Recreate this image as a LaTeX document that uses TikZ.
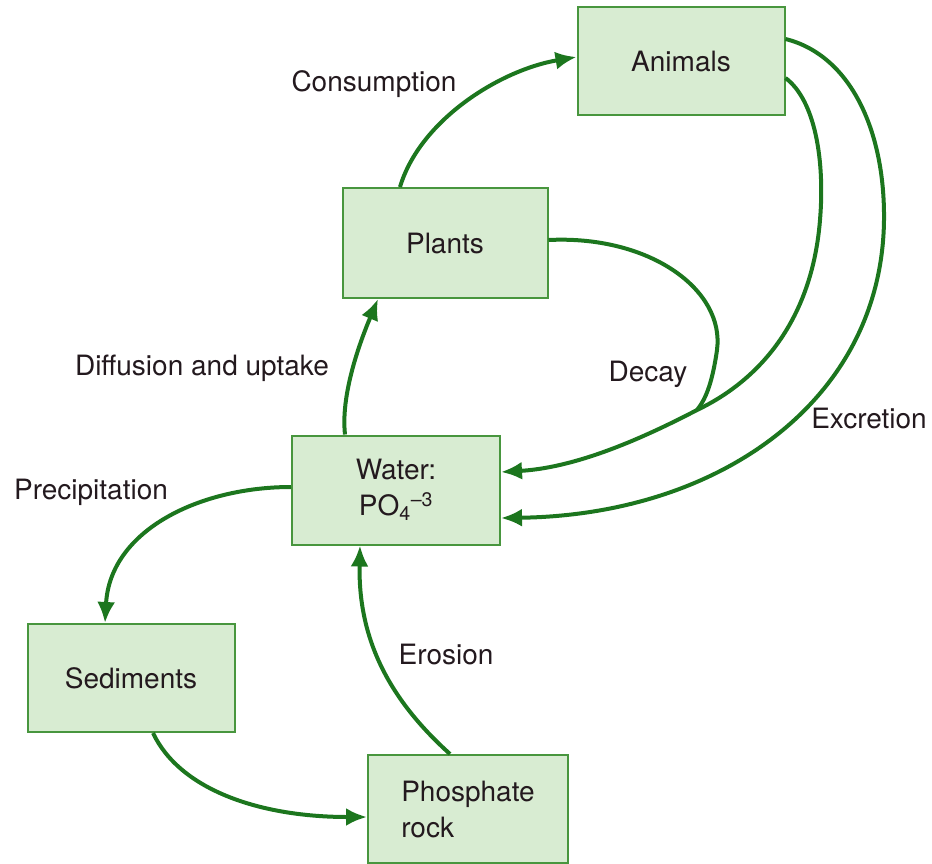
\documentclass[tikz,border=0pt]{standalone}
\usepackage{fontspec}
\setmainfont{TeX Gyre Heros}
\usepackage{xcolor}
\usetikzlibrary{arrows.meta}
\definecolor{boxfill}{RGB}{216,236,210}
\definecolor{boxline}{RGB}{72,150,62}
\definecolor{flow}{RGB}{28,118,30}
\definecolor{ink}{RGB}{35,25,30}
\tikzstyle{block} = [rectangle, draw=boxline, line width=2pt, fill=boxfill,
text=ink, minimum width=207pt, minimum height=108pt, align=center]
\tikzstyle{tag} = [text=ink]
\tikzstyle{line} = [draw=flow, line width=4pt, -{Latex[length=21pt,width=18pt]}]
\tikzstyle{noarrow} = [draw=flow, line width=4pt]

\begin{document}
\begin{tikzpicture}[x=1pt, y=-1pt, font=\fontsize{28}{36}\selectfont]
	\useasboundingbox (0,0) rectangle (932,863);
	% Place nodes
	\node [block] (animals) at (681,61) {Animals};
	\node [block, minimum width=205pt, minimum height=110pt] (plants) at (445,243) {Plants};
	\node [block, minimum width=208pt, minimum height=109pt] (water) at (396,490) {Water:\\PO\textsubscript{4}\textsuperscript{--3}};
	\node [block] (sediments) at (131,678) {Sediments};
	\node [block, minimum width=200pt, align=left] (rock) at (468,809) {Phosphate\\rock};
	\coordinate (merge) at (697,410);
	%
	\path [line] ([xshift=-45pt]plants.north) .. controls (420,120) and (500,70) .. ([yshift=4pt]animals.west);
	\path [line] ([xshift=-51pt]water.north) .. controls (340,390) and (365,330) .. ([xshift=-67pt]plants.south);
	\path [line] ([yshift=3pt]water.west) .. controls (200,487) and (110,530) .. ([xshift=-26pt]sediments.north);
	\path [line] ([xshift=22pt]sediments.south) .. controls (180,790) and (260,817) .. ([yshift=-8pt]rock.west);
	\path [line] ([xshift=-18pt]rock.north) .. controls (390,700) and (358,640) .. ([xshift=-36pt]water.south);
	%
	\path [line] ([yshift=22pt]animals.east) .. controls (850,55) and (885,130) .. (884,220)
		.. controls (882,400) and (720,515) .. ([yshift=-28pt]water.east);
	\path [line] ([yshift=-17pt]animals.east) .. controls (815,100) and (825,160) .. (820,220)
		.. controls (812,320) and (760,380) .. (merge)
		.. controls (630,445) and (570,468) .. ([yshift=18pt]water.east);
	\path [noarrow] ([yshift=3pt]plants.east) .. controls (650,235) and (725,290) .. (717,350)
		.. controls (712,385) and (705,400) .. (merge);
	
	\node [tag] (consumption) at (374,84) {Consumption};
	\node [tag] (uptake) at (202,368) {Diffusion and uptake};
	\node [tag] (decay) at (648,374) {Decay};
	\node [tag] (excretion) at (869,418) {Excretion};
	\node [tag] (precipitation) at (91,492) {Precipitation};
	\node [tag] (erosion) at (446,654) {Erosion};
\end{tikzpicture}
\end{document}
